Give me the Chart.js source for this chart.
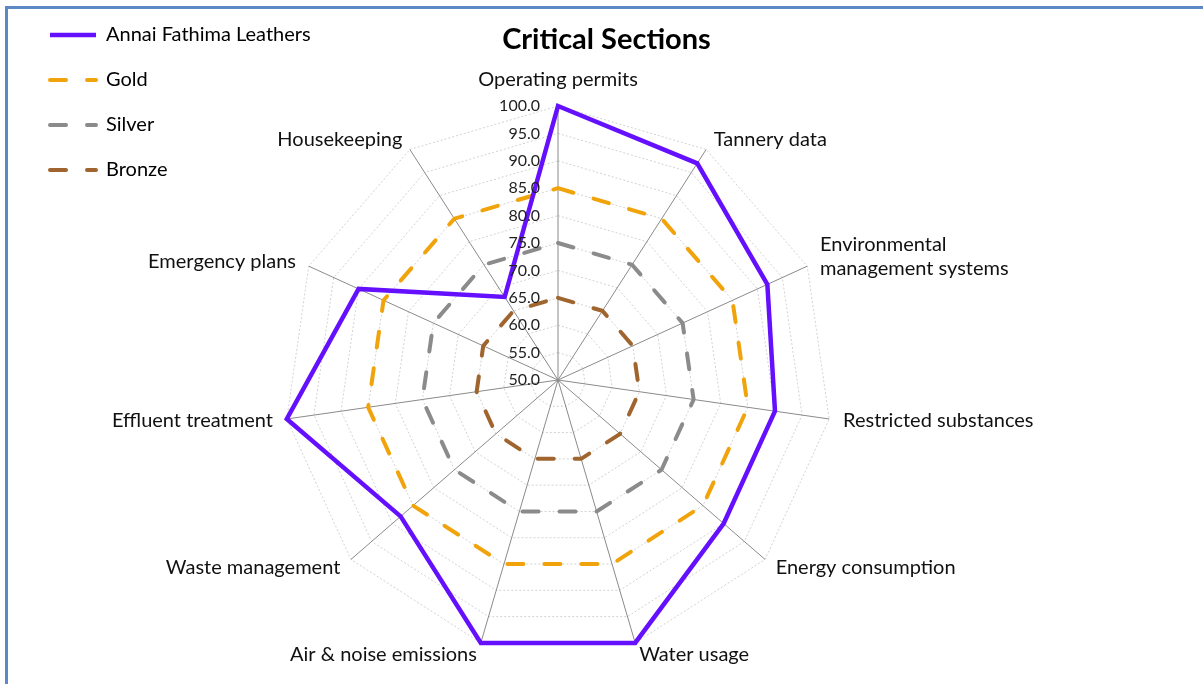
<!DOCTYPE html>
<html>
<head>
<meta charset="utf-8">
<title>Critical Sections</title>
<script src="https://cdn.jsdelivr.net/npm/chart.js@4.4.0/dist/chart.umd.min.js"></script>
<style>
  html, body { margin: 0; padding: 0; background: #fff; overflow: hidden; }
  #wrap { position: relative; width: 1203px; height: 684px; overflow: hidden; }
  #frame { position: absolute; left: 5px; top: 6px; width: 1400px; height: 900px; border: 3px solid #5a89c5; pointer-events: none; }
  #title { position: absolute; left: 0; width: 1213px; top: 20px; text-align: center; font: bold 29px Lato; color: #000; }
</style>
</head>
<body>
<div id="wrap">
  <canvas id="radarChart" width="1203" height="684"></canvas>
  <div id="title">Critical Sections</div>
  <div id="frame"></div>
</div>
<script>
const categories = [
    "Operating permits",
    "Tannery data",
    ["Environmental", "management systems"],
    "Restricted substances",
    "Energy consumption",
    "Water usage",
    "Air & noise emissions",
    "Waste management",
    "Effluent treatment",
    "Emergency plans",
    "Housekeeping",
];
const annaiValues = [100, 97, 92, 90, 90, 100, 100, 88, 100, 90, 68];
const goldValues = [85, 85, 85, 85, 85, 85, 85, 85, 85, 85, 85];
const silverValues = [75, 75, 75, 75, 75, 75, 75, 75, 75, 75, 75];
const bronzeValues = [65, 65, 65, 65, 65, 65, 65, 65, 65, 65, 65];
const scaleMin = 50;
const scaleMax = 100;
const scaleStep = 5;

const FONT = "Lato";

// tick labels sit to the left of the vertical axis, like Excel
const leftTicks = {
    id: "leftTicks",
    afterDatasetsDraw(chart) {
        const scale = chart.scales.r;
        const ctx = chart.ctx;
        ctx.save();
        ctx.font = "16px " + FONT;
        ctx.fillStyle = "#1f1f1f";
        ctx.textAlign = "right";
        ctx.textBaseline = "middle";
        scale.ticks.forEach((t) => {
            const d = scale.getDistanceFromCenterForValue(t.value);
            ctx.fillText(t.label, scale.xCenter - 18, scale.yCenter - d);
        });
        ctx.restore();
    },
};

// category labels placed next to the end of each spoke
const spokeLabels = {
    id: "spokeLabels",
    afterDraw(chart) {
        const scale = chart.scales.r;
        const ctx = chart.ctx;
        const lineH = 24;
        ctx.save();
        ctx.font = "20px " + FONT;
        ctx.fillStyle = "#111";
        ctx.textBaseline = "middle";
        chart.data.labels.forEach((label, i) => {
            const lines = Array.isArray(label) ? label : [label];
            const h = lines.length * lineH;
            const a = scale.getIndexAngle(i);
            const s = Math.sin(a);
            const c = Math.cos(a);
            const end = scale.getPointPosition(i, scale.drawingArea);
            let x = end.x + 14 * s;
            let yc = end.y - (c * h) / 2;
            if (Math.abs(s) < 0.05) yc = end.y - Math.sign(c) * (14 + h / 2);
            ctx.textAlign = s > 0.05 ? "left" : s < -0.05 ? "right" : "center";
            lines.forEach((ln, k) => {
                ctx.fillText(ln, x, yc - h / 2 + lineH * (k + 0.5));
            });
        });
        ctx.restore();
    },
};

const ctx = document.getElementById("radarChart").getContext("2d");

new Chart(ctx, {
    type: "radar",
    data: {
        labels: categories,
        datasets: [
            {
                label: "Annai Fathima Leathers",
                data: annaiValues,
                borderColor: "#6410ff",
                borderWidth: 4.5,
                borderJoinStyle: "miter",
                pointRadius: 0,
                fill: false,
            },
            {
                label: "Gold",
                data: goldValues,
                borderColor: "#f0a30a",
                borderWidth: 4,
                borderDash: [16, 21],
                borderCapStyle: "round",
                pointRadius: 0,
                fill: false,
            },
            {
                label: "Silver",
                data: silverValues,
                borderColor: "#8b8b8b",
                borderWidth: 4,
                borderDash: [16, 21],
                borderCapStyle: "round",
                pointRadius: 0,
                fill: false,
            },
            {
                label: "Bronze",
                data: bronzeValues,
                borderColor: "#a0652e",
                borderWidth: 4,
                borderDash: [16, 21],
                borderCapStyle: "round",
                pointRadius: 0,
                fill: false,
            },
        ],
    },
    options: {
        responsive: false,
        animation: false,
        devicePixelRatio: 1,
        layout: {
            padding: { top: 106, bottom: 30, left: 25, right: 112 },
        },
        scales: {
            r: {
                min: scaleMin,
                max: scaleMax,
                ticks: {
                    stepSize: scaleStep,
                    display: false,
                    callback: (v) => v.toFixed(1),
                },
                grid: { color: "#d2d2d2", lineWidth: 1 },
                border: { dash: [2, 2] },
                angleLines: { color: "#8a8a8a", lineWidth: 1 },
                pointLabels: { display: false },
            },
        },
        plugins: {
            title: { display: false },
            tooltip: { enabled: false },
            legend: {
                position: "chartArea",
                align: "start",
                labels: {
                    usePointStyle: true,
                    pointStyle: "line",
                    pointStyleWidth: 46,
                    padding: 25,
                    color: "#000",
                    font: { size: 20, family: FONT },
                    generateLabels(chart) {
                        const items = Chart.defaults.plugins.legend.labels.generateLabels(chart);
                        items.forEach((item) => {
                            const ds = chart.data.datasets[item.datasetIndex];
                            item.strokeStyle = ds.borderColor;
                            item.lineWidth = ds.borderWidth;
                            item.lineDash = ds.borderDash || [];
                            item.lineCap = ds.borderCapStyle || "butt";
                        });
                        return items;
                    },
                },
            },
        },
    },
    plugins: [leftTicks, spokeLabels],
});
</script>
</body>
</html>
